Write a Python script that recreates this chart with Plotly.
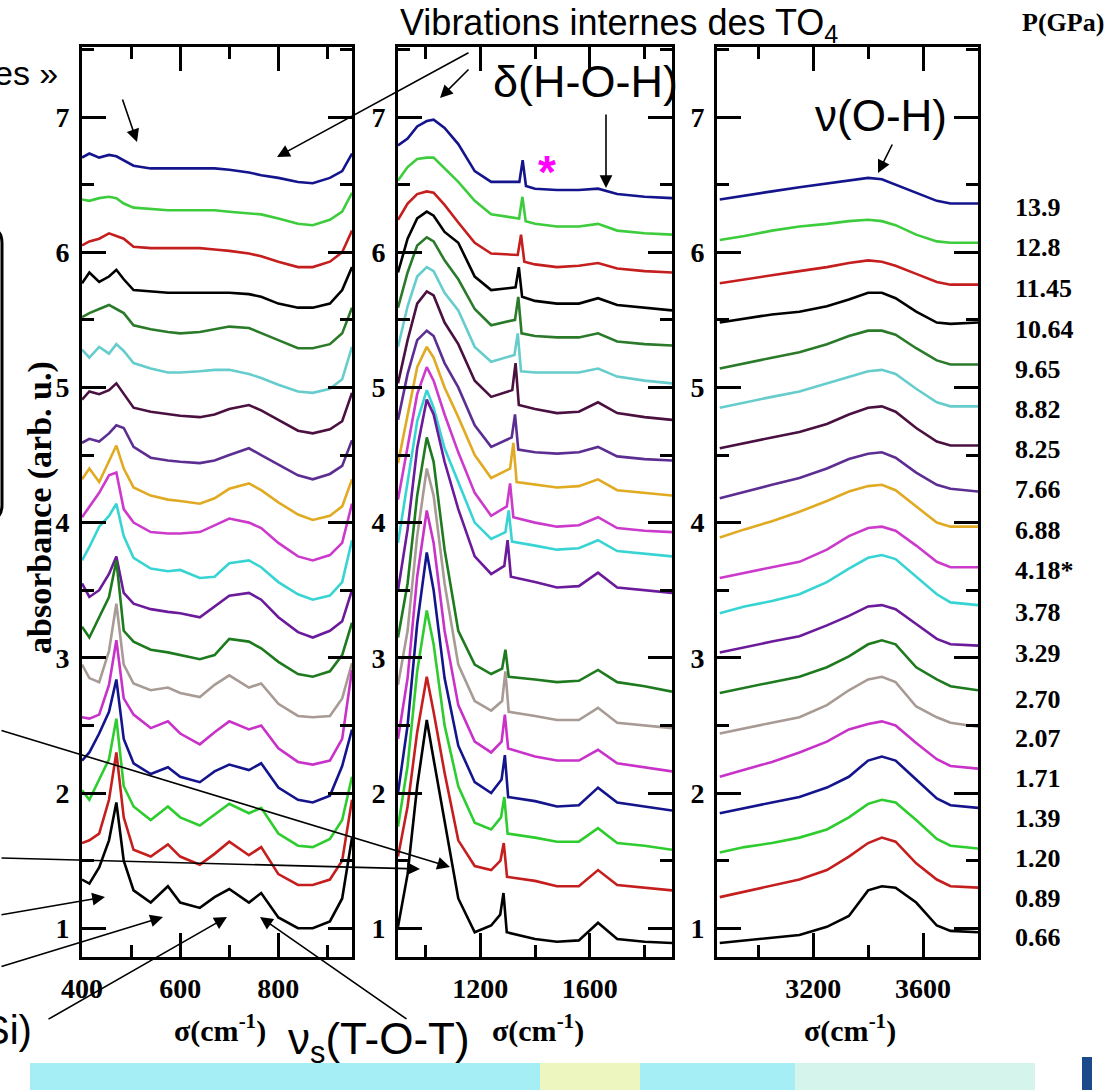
import plotly.graph_objects as go

W, H = 1117, 1090

PRESSURES = ["0.66", "0.89", "1.20", "1.39", "1.71", "2.07", "2.70", "3.29", "3.78", "4.18*",
             "6.88", "7.66", "8.25", "8.82", "9.65", "10.64", "11.45", "12.8", "13.9"]
COLORS = ["#000000", "#c41e1e", "#2ecc2e", "#14148c", "#c832c8", "#a89a94", "#1e7a1e", "#6a1a9a",
          "#38d4d4", "#cc3acc", "#e0aa22", "#5c2e92", "#4a1040", "#66cccc", "#2a7a2a", "#000000",
          "#c41e1e", "#3ccc3c", "#14148c"]

# ---- panel 1 : 400-950 cm-1 ----
P1_X = [400, 415, 435, 455, 470, 485, 505, 540, 575, 600, 640, 670, 700, 740, 765, 800, 840, 870, 905, 930, 950]
P1_Y = [
    [1.36, 1.33, 1.45, 1.65, 1.93, 1.50, 1.28, 1.19, 1.31, 1.19, 1.15, 1.23, 1.29, 1.19, 1.26, 1.08, 1.00, 1.00, 1.05, 1.22, 1.67],
    [1.63, 1.65, 1.70, 1.95, 2.30, 1.82, 1.58, 1.53, 1.62, 1.53, 1.47, 1.55, 1.64, 1.54, 1.60, 1.40, 1.32, 1.32, 1.36, 1.50, 1.95],
    [2.02, 1.95, 2.10, 2.25, 2.55, 2.05, 1.90, 1.80, 1.90, 1.82, 1.76, 1.84, 1.92, 1.85, 1.89, 1.70, 1.61, 1.60, 1.66, 1.80, 2.12],
    [2.24, 2.30, 2.44, 2.60, 2.84, 2.40, 2.22, 2.14, 2.19, 2.12, 2.08, 2.16, 2.21, 2.17, 2.22, 2.04, 1.95, 1.93, 1.98, 2.20, 2.47],
    [2.56, 2.55, 2.58, 2.80, 3.13, 2.70, 2.58, 2.48, 2.53, 2.44, 2.36, 2.45, 2.53, 2.47, 2.50, 2.33, 2.23, 2.21, 2.24, 2.40, 2.91],
    [2.95, 2.85, 2.82, 3.05, 3.40, 2.95, 2.81, 2.76, 2.78, 2.74, 2.71, 2.80, 2.87, 2.78, 2.81, 2.66, 2.57, 2.56, 2.57, 2.70, 2.96],
    [3.23, 3.15, 3.30, 3.45, 3.72, 3.20, 3.12, 3.06, 3.04, 3.02, 2.99, 3.02, 3.14, 3.12, 3.07, 2.97, 2.88, 2.86, 2.90, 3.02, 3.26],
    [3.55, 3.45, 3.50, 3.62, 3.75, 3.48, 3.40, 3.36, 3.34, 3.33, 3.30, 3.38, 3.46, 3.48, 3.43, 3.30, 3.19, 3.15, 3.20, 3.27, 3.50],
    [3.72, 3.82, 3.97, 4.05, 4.14, 3.90, 3.74, 3.66, 3.64, 3.65, 3.59, 3.60, 3.70, 3.72, 3.67, 3.56, 3.47, 3.43, 3.46, 3.56, 3.87],
    [4.04, 4.12, 4.22, 4.35, 4.37, 4.10, 4.00, 3.93, 3.92, 3.92, 3.93, 3.98, 4.03, 4.00, 3.96, 3.85, 3.75, 3.72, 3.76, 3.85, 4.14],
    [4.32, 4.40, 4.30, 4.45, 4.57, 4.40, 4.26, 4.20, 4.17, 4.16, 4.14, 4.18, 4.25, 4.29, 4.24, 4.15, 4.06, 4.02, 4.05, 4.12, 4.32],
    [4.59, 4.62, 4.60, 4.66, 4.72, 4.70, 4.56, 4.48, 4.46, 4.45, 4.44, 4.46, 4.50, 4.55, 4.50, 4.43, 4.35, 4.32, 4.36, 4.42, 4.61],
    [4.91, 4.97, 4.95, 4.98, 5.03, 4.95, 4.85, 4.82, 4.80, 4.79, 4.78, 4.80, 4.84, 4.87, 4.83, 4.76, 4.68, 4.66, 4.69, 4.75, 4.96],
    [5.28, 5.22, 5.30, 5.25, 5.32, 5.27, 5.18, 5.14, 5.11, 5.11, 5.12, 5.13, 5.13, 5.10, 5.07, 5.02, 4.97, 4.96, 4.99, 5.06, 5.30],
    [5.52, 5.55, 5.58, 5.61, 5.58, 5.55, 5.46, 5.43, 5.41, 5.40, 5.41, 5.43, 5.45, 5.44, 5.40, 5.35, 5.29, 5.29, 5.32, 5.40, 5.59],
    [5.77, 5.85, 5.78, 5.82, 5.87, 5.80, 5.72, 5.71, 5.70, 5.70, 5.70, 5.70, 5.70, 5.69, 5.67, 5.62, 5.59, 5.59, 5.62, 5.72, 5.89],
    [6.05, 6.08, 6.10, 6.14, 6.12, 6.10, 6.04, 6.03, 6.03, 6.03, 6.03, 6.02, 6.01, 5.99, 5.97, 5.93, 5.89, 5.89, 5.93, 6.00, 6.16],
    [6.39, 6.38, 6.40, 6.41, 6.40, 6.36, 6.33, 6.32, 6.31, 6.31, 6.31, 6.31, 6.30, 6.29, 6.28, 6.25, 6.21, 6.20, 6.24, 6.30, 6.44],
    [6.70, 6.73, 6.70, 6.72, 6.71, 6.68, 6.64, 6.62, 6.62, 6.62, 6.62, 6.62, 6.61, 6.59, 6.57, 6.55, 6.52, 6.51, 6.55, 6.60, 6.73],
]

# ---- panel 2 : 900-1900 cm-1 (sharp band whose position shifts with pressure) ----
P2_X_HEAD = [900, 935, 970, 1005, 1030, 1070, 1120, 1180, 1240]
P2_X_TAIL = [1400, 1480, 1560, 1630, 1700, 1800, 1900]
P2_SPIKE_X = [1285, 1286, 1288, 1290, 1290, 1292, 1292, 1300, 1304, 1309,
              1321, 1327, 1329, 1337, 1339, 1341, 1349, 1354, 1355]
P2_SPIKE_HALFWIDTH = 12
P2_Y = [
    [1.01, 1.40, 2.05, 2.54, 2.25, 1.80, 1.22, 0.97, 1.02, 1.10, 1.26, 0.97, 0.92, 0.90, 0.91, 1.04, 0.92, 0.90, 0.89],
    [1.53, 1.90, 2.45, 2.86, 2.60, 2.15, 1.65, 1.46, 1.43, 1.50, 1.63, 1.38, 1.35, 1.31, 1.31, 1.43, 1.32, 1.30, 1.28],
    [1.75, 2.20, 2.90, 3.35, 3.10, 2.50, 2.05, 1.78, 1.73, 1.82, 1.97, 1.70, 1.67, 1.64, 1.64, 1.74, 1.63, 1.61, 1.58],
    [2.00, 2.50, 3.25, 3.78, 3.50, 2.85, 2.35, 2.08, 2.00, 2.10, 2.28, 1.97, 1.94, 1.90, 1.91, 2.04, 1.93, 1.90, 1.87],
    [2.40, 2.85, 3.60, 4.09, 3.85, 3.20, 2.65, 2.38, 2.30, 2.38, 2.58, 2.33, 2.27, 2.24, 2.24, 2.32, 2.22, 2.19, 2.16],
    [2.80, 3.20, 3.90, 4.40, 4.20, 3.55, 2.95, 2.68, 2.61, 2.68, 2.90, 2.60, 2.57, 2.54, 2.54, 2.63, 2.52, 2.50, 2.48],
    [3.15, 3.55, 4.20, 4.63, 4.45, 3.80, 3.20, 2.95, 2.88, 2.92, 3.06, 2.86, 2.84, 2.82, 2.83, 2.91, 2.82, 2.79, 2.75],
    [3.50, 3.95, 4.55, 4.91, 4.80, 4.45, 4.10, 3.75, 3.62, 3.68, 3.87, 3.60, 3.56, 3.52, 3.53, 3.63, 3.52, 3.50, 3.48],
    [3.85, 4.30, 4.75, 4.98, 4.85, 4.55, 4.30, 4.00, 3.88, 3.93, 4.09, 3.86, 3.83, 3.80, 3.81, 3.87, 3.79, 3.77, 3.75],
    [4.17, 4.55, 4.95, 5.15, 5.05, 4.80, 4.52, 4.22, 4.05, 4.12, 4.29, 4.04, 4.00, 3.97, 3.98, 4.04, 3.96, 3.94, 3.93],
    [4.44, 4.80, 5.15, 5.30, 5.22, 5.00, 4.78, 4.50, 4.33, 4.40, 4.59, 4.30, 4.28, 4.26, 4.27, 4.32, 4.24, 4.22, 4.20],
    [4.76, 5.10, 5.35, 5.42, 5.38, 5.18, 5.00, 4.72, 4.56, 4.63, 4.80, 4.54, 4.52, 4.51, 4.52, 4.56, 4.49, 4.47, 4.46],
    [5.03, 5.35, 5.62, 5.71, 5.68, 5.48, 5.32, 5.05, 4.93, 4.98, 5.18, 4.87, 4.84, 4.81, 4.82, 4.89, 4.81, 4.78, 4.76],
    [5.30, 5.60, 5.82, 5.89, 5.86, 5.70, 5.57, 5.30, 5.19, 5.24, 5.40, 5.12, 5.11, 5.11, 5.11, 5.14, 5.08, 5.05, 5.03],
    [5.59, 5.85, 6.05, 6.11, 6.08, 5.94, 5.80, 5.58, 5.46, 5.50, 5.67, 5.40, 5.38, 5.37, 5.37, 5.40, 5.34, 5.32, 5.31],
    [5.85, 6.10, 6.25, 6.30, 6.27, 6.15, 6.07, 5.82, 5.72, 5.74, 5.89, 5.67, 5.64, 5.62, 5.62, 5.66, 5.61, 5.59, 5.57],
    [6.24, 6.36, 6.43, 6.45, 6.44, 6.35, 6.22, 6.07, 5.99, 5.98, 6.13, 5.93, 5.91, 5.89, 5.90, 5.92, 5.88, 5.86, 5.85],
    [6.53, 6.63, 6.69, 6.70, 6.70, 6.62, 6.52, 6.38, 6.28, 6.25, 6.41, 6.23, 6.21, 6.19, 6.19, 6.21, 6.16, 6.14, 6.13],
    [6.79, 6.84, 6.93, 6.97, 6.98, 6.92, 6.80, 6.60, 6.52, 6.52, 6.68, 6.49, 6.47, 6.46, 6.46, 6.47, 6.43, 6.41, 6.40],
]

# ---- panel 3 : 2850-3800 cm-1 ----
P3_X = [2860, 2950, 3050, 3150, 3250, 3330, 3400, 3450, 3500, 3575, 3650, 3700, 3800]
P3_Y = [
    [0.89, 0.91, 0.93, 0.95, 1.01, 1.09, 1.28, 1.31, 1.30, 1.19, 1.02, 0.98, 0.97],
    [1.23, 1.27, 1.31, 1.36, 1.43, 1.53, 1.63, 1.67, 1.64, 1.48, 1.36, 1.31, 1.30],
    [1.56, 1.60, 1.63, 1.67, 1.73, 1.82, 1.92, 1.95, 1.93, 1.80, 1.66, 1.61, 1.59],
    [1.85, 1.89, 1.93, 1.97, 2.04, 2.12, 2.24, 2.27, 2.24, 2.10, 1.96, 1.91, 1.89],
    [2.12, 2.17, 2.23, 2.30, 2.38, 2.47, 2.51, 2.53, 2.50, 2.37, 2.25, 2.20, 2.18],
    [2.44, 2.48, 2.52, 2.56, 2.65, 2.76, 2.84, 2.86, 2.82, 2.64, 2.56, 2.52, 2.49],
    [2.74, 2.78, 2.82, 2.86, 2.93, 3.01, 3.10, 3.13, 3.10, 2.93, 2.84, 2.79, 2.76],
    [3.04, 3.08, 3.12, 3.16, 3.24, 3.31, 3.38, 3.39, 3.36, 3.25, 3.14, 3.10, 3.09],
    [3.33, 3.38, 3.42, 3.47, 3.56, 3.66, 3.74, 3.76, 3.73, 3.60, 3.47, 3.41, 3.39],
    [3.59, 3.63, 3.67, 3.71, 3.80, 3.90, 3.96, 3.97, 3.94, 3.83, 3.71, 3.67, 3.67],
    [3.89, 3.95, 4.01, 4.08, 4.16, 4.23, 4.27, 4.28, 4.24, 4.12, 4.00, 3.97, 3.97],
    [4.18, 4.23, 4.28, 4.33, 4.40, 4.47, 4.51, 4.52, 4.48, 4.37, 4.28, 4.25, 4.23],
    [4.55, 4.59, 4.63, 4.67, 4.73, 4.80, 4.85, 4.86, 4.82, 4.70, 4.60, 4.57, 4.57],
    [4.85, 4.89, 4.93, 4.97, 5.03, 5.08, 5.12, 5.13, 5.10, 4.99, 4.89, 4.86, 4.86],
    [5.14, 5.18, 5.22, 5.26, 5.32, 5.38, 5.42, 5.42, 5.39, 5.29, 5.20, 5.17, 5.17],
    [5.48, 5.51, 5.54, 5.56, 5.60, 5.65, 5.70, 5.70, 5.66, 5.56, 5.48, 5.47, 5.48],
    [5.77, 5.80, 5.83, 5.86, 5.89, 5.92, 5.94, 5.93, 5.90, 5.84, 5.78, 5.76, 5.76],
    [6.09, 6.12, 6.16, 6.19, 6.21, 6.23, 6.24, 6.23, 6.20, 6.13, 6.08, 6.07, 6.07],
    [6.39, 6.42, 6.45, 6.48, 6.51, 6.53, 6.55, 6.54, 6.50, 6.44, 6.38, 6.36, 6.36],
]


def px(x):
    return x / W


def py(y):
    return 1 - y / H


fig = go.Figure()

# draw highest pressure first so the low-pressure curves sit on top
for i in reversed(range(len(PRESSURES))):
    c = COLORS[i]
    line = dict(color=c, width=2.6)
    fig.add_trace(go.Scatter(x=P1_X, y=P1_Y[i], mode="lines", line=line, xaxis="x", yaxis="y",
                             name=PRESSURES[i], hoverinfo="skip"))
    s = P2_SPIKE_X[i]
    x2 = P2_X_HEAD + [s - P2_SPIKE_HALFWIDTH, s, s + P2_SPIKE_HALFWIDTH] + P2_X_TAIL
    fig.add_trace(go.Scatter(x=x2, y=P2_Y[i], mode="lines", line=line, xaxis="x2", yaxis="y2",
                             name=PRESSURES[i], hoverinfo="skip"))
    fig.add_trace(go.Scatter(x=P3_X, y=P3_Y[i], mode="lines", line=line, xaxis="x3", yaxis="y3",
                             name=PRESSURES[i], hoverinfo="skip"))

TICKFONT = dict(family="Liberation Serif", size=28, color="black", weight="bold")


def axis(**kw):
    d = dict(showline=True, linewidth=3, linecolor="black", mirror="ticks", ticks="inside",
             ticklen=24, tickwidth=2.5, tickcolor="black", showgrid=False, zeroline=False,
             automargin=False, tickfont=TICKFONT, ticklabelstandoff=4,
             minor=dict(ticks="inside", ticklen=12, tickwidth=2.5, tickcolor="black", showgrid=False))
    minor_dtick = kw.pop("minor_dtick")
    d.update(kw)
    d["minor"]["dtick"] = minor_dtick
    return d


YDOM = [py(957), py(47)]
YRANGE = [0.787, 7.518]

fig.update_layout(
    template="none",
    width=W, height=H, margin=dict(l=0, r=0, t=0, b=0, autoexpand=False),
    paper_bgcolor="white", plot_bgcolor="white", showlegend=False,
    xaxis=axis(domain=[px(82), px(352)], range=[400, 950], tick0=400, dtick=200, anchor="y", minor_dtick=100),
    xaxis2=axis(domain=[px(398), px(672)], range=[900, 1900], tick0=1200, dtick=400, anchor="y2", minor_dtick=200),
    xaxis3=axis(domain=[px(717), px(978)], range=[2850, 3800], tick0=3200, dtick=400, anchor="y3", minor_dtick=200),
    yaxis=axis(domain=YDOM, range=YRANGE, tick0=0, dtick=1, anchor="x", minor_dtick=0.5),
    yaxis2=axis(domain=YDOM, range=YRANGE, tick0=0, dtick=1, anchor="x2", minor_dtick=0.5),
    yaxis3=axis(domain=YDOM, range=YRANGE, tick0=0, dtick=1, anchor="x3", minor_dtick=0.5),
)

ann = []
SERIF_B = dict(family="Liberation Serif", color="black", weight="bold")
SANS = dict(family="Liberation Sans", color="black")

# axis titles
for cx in (220, 538, 850):
    ann.append(dict(x=px(cx), y=py(1028), xref="paper", yref="paper", showarrow=False,
                    text="σ(cm<sup>-1</sup>)", font=dict(size=30, **SERIF_B),
                    xanchor="center", yanchor="middle"))
ann.append(dict(x=px(40), y=py(508), xref="paper", yref="paper", showarrow=False, textangle=-90,
                text="absorbance (arb. u.)", font=dict(size=34, **SERIF_B),
                xanchor="center", yanchor="middle"))

# pressure legend
ann.append(dict(x=px(1020), y=py(22), xref="paper", yref="paper", showarrow=False, text="P(GPa)",
                font=dict(size=26, **SERIF_B), xanchor="left", yanchor="middle"))
LABEL_Y_PX = [937, 898, 858, 818, 778, 738, 699, 653, 612, 571, 530, 490, 450, 410, 370, 330, 288, 247, 207]
for lab, ly in zip(PRESSURES, LABEL_Y_PX):
    ann.append(dict(x=px(1013), y=py(ly), xref="paper", yref="paper", showarrow=False, text=lab,
                    font=dict(size=26, **SERIF_B), xanchor="left", yanchor="middle"))

# slide annotations
ann.append(dict(x=px(398), y=py(25), xref="paper", yref="paper", showarrow=False,
                text="Vibrations internes des TO<sub>4</sub>", font=dict(size=36, **SANS),
                xanchor="left", yanchor="middle"))
ann.append(dict(x=px(585), y=py(82), xref="paper", yref="paper", showarrow=False,
                text="δ(H-O-H)", font=dict(size=45, **SANS), xanchor="center", yanchor="middle"))
ann.append(dict(x=px(881), y=py(115), xref="paper", yref="paper", showarrow=False,
                text="ν(O-H)", font=dict(size=44, **SANS), xanchor="center", yanchor="middle"))
ann.append(dict(x=px(60), y=py(73), xref="paper", yref="paper", showarrow=False,
                text="es »", font=dict(size=34, **SANS), xanchor="right", yanchor="middle"))
ann.append(dict(x=px(34), y=py(1030), xref="paper", yref="paper", showarrow=False,
                text="Si)", font=dict(size=40, **SANS), xanchor="right", yanchor="middle"))
ann.append(dict(x=px(286), y=py(1042), xref="paper", yref="paper", showarrow=False,
                text="ν<sub>s</sub>(T-O-T)", font=dict(size=44, **SANS), xanchor="left", yanchor="middle"))
ann.append(dict(x=px(547), y=py(172), xref="paper", yref="paper", showarrow=False,
                text="*", font=dict(size=46, family="Liberation Sans", color="#ff00ff", weight="bold"),
                xanchor="center", yanchor="middle"))

ARROWS = [
    (137, 142, 122, 98), (277, 157, 470, 52), (440, 98, 470, 68), (606, 188, 606, 113),
    (878, 173, 893, 143), (450, 867, 0, 730), (420, 869, 0, 858), (105, 897, 0, 915),
    (163, 917, 0, 967), (227, 917, 47, 1020), (260, 917, 408, 1020),
]
for hx, hy, tx, ty in ARROWS:
    ann.append(dict(x=px(hx), y=py(hy), xref="paper", yref="paper", ax=tx - hx, ay=ty - hy,
                    axref="pixel", ayref="pixel", text="", showarrow=True, arrowhead=2,
                    arrowsize=1.6, arrowwidth=1.6, arrowcolor="black", standoff=0))
fig.update_layout(annotations=ann)

shapes = []
# partial rounded frame on the left edge
r = 15
path = (f"M {px(-20)},{py(228)} L {px(2 - r)},{py(228)} Q {px(2)},{py(228)} {px(2)},{py(228 + r)} "
        f"L {px(2)},{py(520 - r)} Q {px(2)},{py(520)} {px(2 - r)},{py(520)} L {px(-20)},{py(520)}")
shapes.append(dict(type="path", path=path, xref="paper", yref="paper", line=dict(color="black", width=3)))
# decorative slide background strip at the bottom
shapes.append(dict(type="rect", xref="paper", yref="paper", x0=px(30), x1=px(795), y0=py(1090), y1=py(1063),
                   fillcolor="#a6eef6", line=dict(width=0), layer="below"))
shapes.append(dict(type="rect", xref="paper", yref="paper", x0=px(540), x1=px(640), y0=py(1090), y1=py(1063),
                   fillcolor="#eef6c0", line=dict(width=0), layer="below"))
shapes.append(dict(type="rect", xref="paper", yref="paper", x0=px(795), x1=px(1035), y0=py(1090), y1=py(1063),
                   fillcolor="#d4f4ec", line=dict(width=0), layer="below"))
shapes.append(dict(type="rect", xref="paper", yref="paper", x0=px(1082), x1=px(1092), y0=py(1090), y1=py(1057),
                   fillcolor="#1a4a8a", line=dict(width=0)))
fig.update_layout(shapes=shapes)

# the page's default 8px body margin would shift the figure; remove it
fig.write_html("out.html", config={"displayModeBar": False},
               post_script="document.body.style.margin='0px';")
